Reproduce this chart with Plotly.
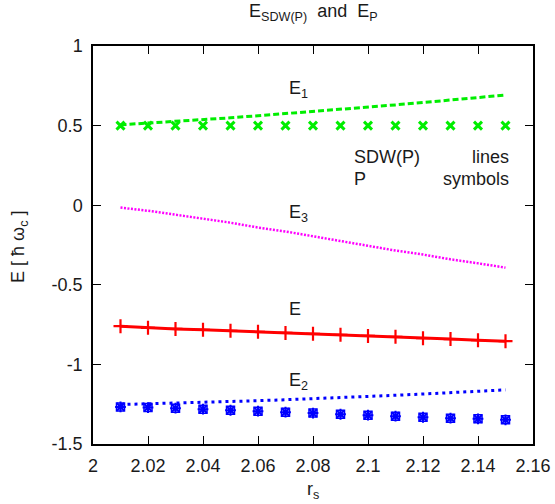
import plotly.graph_objects as go

rs = [2.01, 2.02, 2.03, 2.04, 2.05, 2.06, 2.07, 2.08, 2.09, 2.10, 2.11, 2.12, 2.13, 2.14, 2.15]

# SDW(P) lines
E1_sdw = [0.505, 0.515, 0.525, 0.537, 0.549, 0.562, 0.575, 0.589, 0.602, 0.616, 0.630, 0.645, 0.660, 0.676, 0.692]
E3_sdw = [-0.015, -0.035, -0.060, -0.085, -0.110, -0.140, -0.165, -0.195, -0.225, -0.258, -0.285, -0.310, -0.340, -0.365, -0.392]
E_sdw = [-0.760, -0.770, -0.777, -0.783, -0.789, -0.795, -0.802, -0.808, -0.814, -0.821, -0.827, -0.835, -0.841, -0.848, -0.854]
E2_sdw = [-1.252, -1.248, -1.244, -1.238, -1.233, -1.228, -1.222, -1.216, -1.209, -1.202, -1.194, -1.186, -1.177, -1.168, -1.160]

# P symbols
E1_p = [0.50] * 15
E_p = [-0.760, -0.770, -0.777, -0.783, -0.789, -0.795, -0.802, -0.808, -0.814, -0.821, -0.827, -0.835, -0.841, -0.848, -0.854]
E2_p = [-1.267, -1.271, -1.275, -1.281, -1.288, -1.294, -1.300, -1.306, -1.313, -1.319, -1.325, -1.332, -1.338, -1.342, -1.348]

x_ticks = [2, 2.02, 2.04, 2.06, 2.08, 2.1, 2.12, 2.14, 2.16]
x_ticktext = ["2", "2.02", "2.04", "2.06", "2.08", "2.1", "2.12", "2.14", "2.16"]
y_ticks = [-1.5, -1, -0.5, 0, 0.5, 1]
y_ticktext = ["-1.5", "-1", "-0.5", "0", "0.5", "1"]

GREEN = "#00ee00"
RED = "#ff0000"
BLUE = "#0000ff"
MAGENTA = "#ff00ff"
FONT = "Liberation Sans, Arial, sans-serif"
TXT = "#1a1a1a"
FS = 18

fig = go.Figure()

fig.add_trace(go.Scatter(x=rs, y=E1_sdw, mode="lines",
                         line=dict(color=GREEN, width=3, dash="6px,3px")))
fig.add_trace(go.Scatter(x=rs, y=E3_sdw, mode="lines",
                         line=dict(color=MAGENTA, width=2.5, dash="2px,1.5px")))
fig.add_trace(go.Scatter(x=rs, y=E_sdw, mode="lines",
                         line=dict(color=RED, width=3)))
fig.add_trace(go.Scatter(x=rs, y=E2_sdw, mode="lines",
                         line=dict(color=BLUE, width=3, dash="3px,4px")))

fig.add_trace(go.Scatter(x=rs, y=E1_p, mode="markers",
                         marker=dict(symbol="x-thin-open", size=8, color=GREEN,
                                     line=dict(color=GREEN, width=3))))
fig.add_trace(go.Scatter(x=rs, y=E_p, mode="markers",
                         marker=dict(symbol="cross-thin-open", size=10, color=RED,
                                     line=dict(color=RED, width=2.2))))
fig.add_trace(go.Scatter(x=rs, y=E2_p, mode="markers",
                         marker=dict(symbol="asterisk-open", size=9, color=BLUE,
                                     line=dict(color=BLUE, width=2))))
fig.add_trace(go.Scatter(x=rs, y=E2_p, mode="markers",
                         marker=dict(symbol="square-open", size=8, color=BLUE,
                                     line=dict(color=BLUE, width=1.5))))

annos = [
    dict(x=2.0705, y=0.725, text="E<sub>1</sub>"),
    dict(x=2.0705, y=-0.05, text="E<sub>3</sub>"),
    dict(x=2.0705, y=-0.65, text="E"),
    dict(x=2.0705, y=-1.105, text="E<sub>2</sub>"),
]
for a in annos:
    fig.add_annotation(xref="x", yref="y", showarrow=False, xanchor="left", yanchor="middle",
                       font=dict(family=FONT, size=FS, color=TXT), **a)

legend_txt = [
    dict(x=2.094, y=0.30, text="SDW(P)", xanchor="left"),
    dict(x=2.152, y=0.30, text="lines", xanchor="right"),
    dict(x=2.094, y=0.165, text="P", xanchor="left"),
    dict(x=2.152, y=0.165, text="symbols", xanchor="right"),
]
for a in legend_txt:
    fig.add_annotation(xref="x", yref="y", showarrow=False, yanchor="middle",
                       font=dict(family=FONT, size=FS, color=TXT), **a)

fig.add_annotation(xref="paper", yref="paper", x=0.5, y=1.0, yshift=20,
                   text="E<sub>SDW(P)</sub>  and  E<sub>P</sub>", showarrow=False,
                   xanchor="center", yanchor="bottom",
                   font=dict(family=FONT, size=FS, color=TXT))

# axis titles
fig.add_annotation(xref="paper", yref="paper", x=0.5, y=-0.1156,
                   text="r<sub>s</sub>", showarrow=False,
                   xanchor="center", yanchor="middle",
                   font=dict(family=FONT, size=FS, color=TXT))
fig.add_annotation(xref="paper", yref="paper", x=-0.166, y=0.495,
                   text="E [ ħ ω<sub>c</sub> ]", showarrow=False, textangle=-90,
                   xanchor="center", yanchor="middle",
                   font=dict(family=FONT, size=FS, color=TXT))

axis_common = dict(showline=True, linecolor="black", linewidth=1.5, mirror="ticks",
                   ticks="inside", ticklen=8, tickwidth=1, tickcolor="black",
                   showgrid=False, zeroline=False, ticklabelstandoff=5, automargin=False,
                   tickfont=dict(family=FONT, size=FS, color=TXT))

fig.update_layout(
    width=555, height=504,
    margin=dict(l=93, r=22, t=46, b=60),
    plot_bgcolor="white", paper_bgcolor="white",
    showlegend=False,
    xaxis=dict(range=[2, 2.16], tickvals=x_ticks, ticktext=x_ticktext, **axis_common),
    yaxis=dict(range=[-1.5, 1], tickvals=y_ticks, ticktext=y_ticktext, **axis_common),
)

fig.write_html("out.html")
